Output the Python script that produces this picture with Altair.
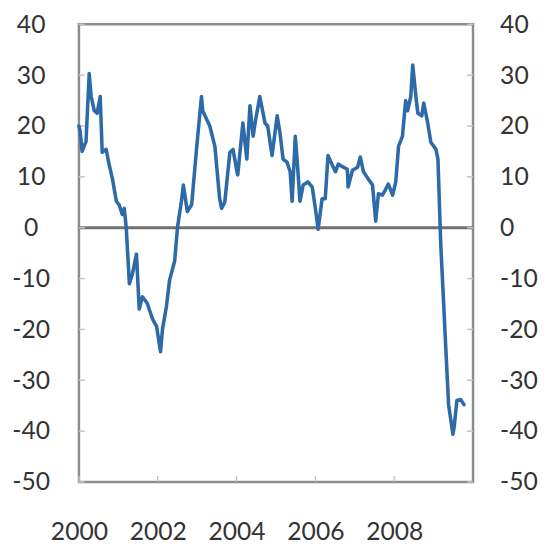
import altair as alt
import pandas as pd

# ---- data ----
years = [2000.00, 2000.03, 2000.08, 2000.18, 2000.26, 2000.31, 2000.39, 2000.46, 2000.54, 2000.59,
         2000.69, 2000.77, 2000.85, 2000.95, 2001.02, 2001.10, 2001.15, 2001.20, 2001.28, 2001.36,
         2001.46, 2001.53, 2001.61, 2001.73, 2001.87, 2001.97, 2002.07, 2002.12, 2002.22, 2002.30,
         2002.43, 2002.50, 2002.60, 2002.65, 2002.75, 2002.86, 2002.99, 2003.11, 2003.14, 2003.32,
         2003.45, 2003.57, 2003.62, 2003.70, 2003.83, 2003.91, 2004.01, 2004.03, 2004.16, 2004.26,
         2004.34, 2004.42, 2004.47, 2004.59, 2004.72, 2004.79, 2004.90, 2005.03, 2005.10, 2005.18,
         2005.28, 2005.36, 2005.41, 2005.49, 2005.54, 2005.61, 2005.69, 2005.81, 2005.92, 2006.00,
         2006.07, 2006.17, 2006.25, 2006.32, 2006.43, 2006.51, 2006.58, 2006.71, 2006.81, 2006.83,
         2006.94, 2007.07, 2007.14, 2007.22, 2007.34, 2007.45, 2007.53, 2007.60, 2007.70, 2007.78,
         2007.85, 2007.96, 2008.04, 2008.11, 2008.21, 2008.29, 2008.34, 2008.42, 2008.47, 2008.55,
         2008.60, 2008.70, 2008.75, 2008.85, 2008.93, 2009.06, 2009.11, 2009.18, 2009.23, 2009.31,
         2009.38, 2009.49, 2009.52, 2009.59, 2009.69, 2009.77]

values = [20, 19, 15, 17, 30.3, 25.8, 23, 22.5, 25.8, 14.8,
          15.4, 12.3, 9.6, 5.2, 4.5, 2.6, 3.8, 0, -11, -9,
          -5.2, -16, -13.6, -14.8, -18, -19.4, -24.4, -20, -15.5, -10.3,
          -6.5, 0, 5.2, 8.4, 3.2, 4.5, 16, 25.8, 23, 20,
          16, 5.7, 3.8, 5, 14.8, 15.4, 11, 10.4, 20.6, 13.5,
          24, 18, 20.6, 25.8, 20.6, 20, 14.2, 22, 18.7, 13.5,
          12.9, 11, 5.2, 18, 12.9, 5.2, 8.4, 9, 8, 3.8,
          -0.3, 5.7, 5.7, 14.2, 12.3, 11, 12.5, 11.9, 11.5, 8,
          11.3, 11.9, 13.9, 11, 9.6, 8.4, 1.3, 6.7, 6.4, 7.5,
          8.6, 6.4, 9, 16, 18, 25, 23, 25.8, 32, 25.8,
          22.5, 22, 24.5, 20.6, 16.8, 15.4, 13.5, -3, -11, -23.8,
          -34.8, -40.6, -39.3, -34, -33.8, -34.8]

y_ticks = [-50, -40, -30, -20, -10, 0, 10, 20, 30, 40]
x_ticks = [2000, 2002, 2004, 2006, 2008]
x_domain = [2000, 2010]
y_domain = [-50, 40]

df = pd.DataFrame({"year": years, "value": values})
yt = pd.DataFrame({"v": y_ticks})
xt = pd.DataFrame({"t": x_ticks})

W, H = 400, 464.5
FONT = "Lato"
FS = 25
LC = "#333333"
TICK_C = "#c4c4c4"

xscale = alt.Scale(domain=x_domain, nice=False, zero=False)
yscale = alt.Scale(domain=y_domain, nice=False, zero=False)

axis_common = dict(title=None, domain=False, ticks=False, grid=False, labelFlush=False,
                   labelFont=FONT, labelFontSize=FS, labelColor=LC,
                   labelExpr="'' + datum.value")

x_axis = alt.Axis(values=x_ticks, labelPadding=38, **axis_common)

zero = alt.Chart(pd.DataFrame({"z": [0]})).mark_rule(color="#707070", strokeWidth=3).encode(
    y=alt.Y("z:Q", scale=yscale, axis=None)
)

line = alt.Chart(df).mark_line(color="#2d6aa8", strokeWidth=3.6, strokeJoin="round",
                               strokeCap="round").encode(
    x=alt.X("year:Q", scale=xscale, axis=x_axis),
    y=alt.Y("value:Q", scale=yscale,
            axis=alt.Axis(orient="left", values=y_ticks, labelPadding=49,
                          labelAlign="center", **axis_common)),
)

left_ticks = alt.Chart(yt).mark_rule(color=TICK_C, strokeWidth=1.5).encode(
    y=alt.Y("v:Q", scale=yscale, axis=None),
    x=alt.value(0), x2=alt.value(6),
)

right_ticks = alt.Chart(yt).mark_rule(color=TICK_C, strokeWidth=1.5).encode(
    y=alt.Y("v:Q", scale=yscale,
            axis=alt.Axis(orient="right", values=y_ticks, labelPadding=27, **axis_common)),
    x=alt.value(W - 6), x2=alt.value(W),
)

bottom_ticks = alt.Chart(xt).mark_rule(color=TICK_C, strokeWidth=1.5).encode(
    x=alt.X("t:Q", scale=xscale, axis=x_axis),
    y=alt.value(H - 6), y2=alt.value(H),
)

chart = alt.layer(zero, left_ticks, right_ticks, bottom_ticks, line).resolve_scale(
    y="independent"
).properties(
    width=W, height=H,
    autosize=alt.AutoSizeParams(type="none"),
    padding={"left": 72, "top": 12.5, "right": 69, "bottom": 64},
    background="white",
).configure_view(stroke="#8c8c8c", strokeWidth=2.5)

chart.save("out.html", embed_options={"renderer": "svg", "actions": False})
